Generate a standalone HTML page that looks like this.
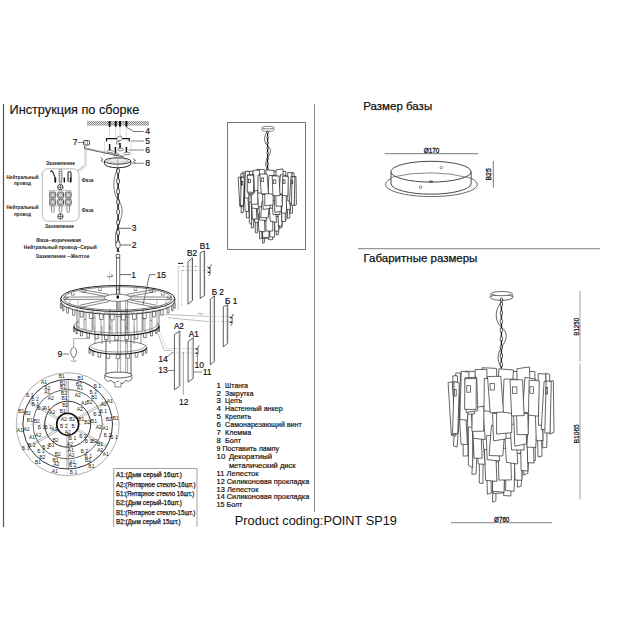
<!DOCTYPE html>
<html><head><meta charset="utf-8"><style>
html,body{margin:0;padding:0;background:#fff;width:630px;height:630px;overflow:hidden}
svg{position:absolute;left:0;top:0;font-family:"Liberation Sans",sans-serif}
</style></head><body>
<svg width="630" height="630" viewBox="0 0 630 630">
<rect width="630" height="630" fill="#fff"/>
<line x1="3.5" y1="104" x2="3.5" y2="527" stroke="#555" stroke-width="1.2" />
<line x1="314.5" y1="104" x2="314.5" y2="512" stroke="#888" stroke-width="1" />
<line x1="358" y1="248.7" x2="600" y2="248.7" stroke="#999" stroke-width="1.3" />
<text x="9.6" y="113.6" font-size="12.7" text-anchor="start" font-weight="normal" fill="#111" stroke="#111" stroke-width="0.15" >Инструкция по сборке</text>
<text x="363.3" y="110" font-size="11.5" text-anchor="start" font-weight="normal" fill="#111" stroke="#111" stroke-width="0.25" >Размер базы</text>
<text x="363.5" y="261.8" font-size="11.5" text-anchor="start" font-weight="normal" fill="#111" stroke="#111" stroke-width="0.25" >Габаритные размеры</text>
<text x="234.8" y="525" font-size="12.75" text-anchor="start" font-weight="normal" fill="#111" >Product coding:POINT SP19</text>
<rect x="227.5" y="122.5" width="78" height="127" fill="none" stroke="#777" stroke-width="1"/>
<path d="M113.7,527 V468.5 H197 V527" stroke="#999" stroke-width="0.9" fill="none" />
<text x="116" y="477.40000000000003" font-size="7.6" text-anchor="start" font-weight="normal" fill="#111" stroke="#111" stroke-width="0.25" textLength="66" lengthAdjust="spacingAndGlyphs">A1:(Дым серый 16шт.)</text>
<text x="116" y="487.0" font-size="7.6" text-anchor="start" font-weight="normal" fill="#111" stroke="#111" stroke-width="0.25" textLength="79.5" lengthAdjust="spacingAndGlyphs">A2:(Янтарное стекло-16шт.)</text>
<text x="116" y="495.8" font-size="7.6" text-anchor="start" font-weight="normal" fill="#111" stroke="#111" stroke-width="0.25" textLength="78.3" lengthAdjust="spacingAndGlyphs">Б1:(Янтарное стекло 16шт.)</text>
<text x="116" y="505.0" font-size="7.6" text-anchor="start" font-weight="normal" fill="#111" stroke="#111" stroke-width="0.25" textLength="66" lengthAdjust="spacingAndGlyphs">Б2:(Дым серый-16шт.)</text>
<text x="116" y="514.5" font-size="7.6" text-anchor="start" font-weight="normal" fill="#111" stroke="#111" stroke-width="0.25" textLength="79.2" lengthAdjust="spacingAndGlyphs">B1:(Янтарное стекло-15шт.)</text>
<text x="116" y="524.1" font-size="7.6" text-anchor="start" font-weight="normal" fill="#111" stroke="#111" stroke-width="0.25" textLength="64.7" lengthAdjust="spacingAndGlyphs">B2:(Дым серый 15шт.)</text>
<text x="216.6" y="387.7" font-size="7.9" text-anchor="start" font-weight="normal" fill="#111" stroke="#111" stroke-width="0.2" >1</text>
<text x="225.1" y="387.7" font-size="7.9" text-anchor="start" font-weight="normal" fill="#111" stroke="#111" stroke-width="0.2" textLength="23.0" lengthAdjust="spacingAndGlyphs">Штанга</text>
<text x="216.6" y="395.5" font-size="7.9" text-anchor="start" font-weight="normal" fill="#111" stroke="#111" stroke-width="0.2" >2</text>
<text x="225.1" y="395.5" font-size="7.9" text-anchor="start" font-weight="normal" fill="#111" stroke="#111" stroke-width="0.2" textLength="28.4" lengthAdjust="spacingAndGlyphs">Закрутка</text>
<text x="216.6" y="403.3" font-size="7.9" text-anchor="start" font-weight="normal" fill="#111" stroke="#111" stroke-width="0.2" >3</text>
<text x="225.1" y="403.3" font-size="7.9" text-anchor="start" font-weight="normal" fill="#111" stroke="#111" stroke-width="0.2" textLength="17.0" lengthAdjust="spacingAndGlyphs">Цепъ</text>
<text x="216.6" y="411.2" font-size="7.9" text-anchor="start" font-weight="normal" fill="#111" stroke="#111" stroke-width="0.2" >4</text>
<text x="225.1" y="411.2" font-size="7.9" text-anchor="start" font-weight="normal" fill="#111" stroke="#111" stroke-width="0.2" textLength="57.5" lengthAdjust="spacingAndGlyphs">Настенный анкер</text>
<text x="216.6" y="419" font-size="7.9" text-anchor="start" font-weight="normal" fill="#111" stroke="#111" stroke-width="0.2" >5</text>
<text x="225.1" y="419" font-size="7.9" text-anchor="start" font-weight="normal" fill="#111" stroke="#111" stroke-width="0.2" textLength="25.9" lengthAdjust="spacingAndGlyphs">Крепить</text>
<text x="216.6" y="427" font-size="7.9" text-anchor="start" font-weight="normal" fill="#111" stroke="#111" stroke-width="0.2" >6</text>
<text x="225.1" y="427" font-size="7.9" text-anchor="start" font-weight="normal" fill="#111" stroke="#111" stroke-width="0.2" textLength="76.6" lengthAdjust="spacingAndGlyphs">Самонарезающий винт</text>
<text x="216.6" y="435" font-size="7.9" text-anchor="start" font-weight="normal" fill="#111" stroke="#111" stroke-width="0.2" >7</text>
<text x="225.1" y="435" font-size="7.9" text-anchor="start" font-weight="normal" fill="#111" stroke="#111" stroke-width="0.2" textLength="26.0" lengthAdjust="spacingAndGlyphs">Клемма</text>
<text x="216.6" y="442.7" font-size="7.9" text-anchor="start" font-weight="normal" fill="#111" stroke="#111" stroke-width="0.2" >8</text>
<text x="225.1" y="442.7" font-size="7.9" text-anchor="start" font-weight="normal" fill="#111" stroke="#111" stroke-width="0.2" textLength="15.9" lengthAdjust="spacingAndGlyphs">Болт</text>
<text x="216.6" y="450.5" font-size="7.9" text-anchor="start" font-weight="normal" fill="#111" stroke="#111" stroke-width="0.2" textLength="62.4" lengthAdjust="spacingAndGlyphs">9 Поставить лампу</text>
<text x="216.6" y="459.2" font-size="7.9" text-anchor="start" font-weight="normal" fill="#111" stroke="#111" stroke-width="0.2" >10</text>
<text x="228.9" y="459.2" font-size="7.9" text-anchor="start" font-weight="normal" fill="#111" stroke="#111" stroke-width="0.2" textLength="43.1" lengthAdjust="spacingAndGlyphs">Декоратиый</text>
<text x="228.9" y="468.3" font-size="7.9" text-anchor="start" font-weight="normal" fill="#111" stroke="#111" stroke-width="0.2" textLength="66.7" lengthAdjust="spacingAndGlyphs">металический диск</text>
<text x="216.6" y="476.3" font-size="7.9" text-anchor="start" font-weight="normal" fill="#111" stroke="#111" stroke-width="0.2" textLength="41.9" lengthAdjust="spacingAndGlyphs">11 Лепесток</text>
<text x="216.6" y="484" font-size="7.9" text-anchor="start" font-weight="normal" fill="#111" stroke="#111" stroke-width="0.2" textLength="92.6" lengthAdjust="spacingAndGlyphs">12 Силиконовая прокладка</text>
<text x="216.6" y="491.6" font-size="7.9" text-anchor="start" font-weight="normal" fill="#111" stroke="#111" stroke-width="0.2" textLength="41.9" lengthAdjust="spacingAndGlyphs">13 Лепесток</text>
<text x="216.6" y="499" font-size="7.9" text-anchor="start" font-weight="normal" fill="#111" stroke="#111" stroke-width="0.2" textLength="92.6" lengthAdjust="spacingAndGlyphs">14 Силиконовая прокладка</text>
<text x="216.6" y="507" font-size="7.9" text-anchor="start" font-weight="normal" fill="#111" stroke="#111" stroke-width="0.2" textLength="25.8" lengthAdjust="spacingAndGlyphs">15 Болт</text>
<text x="431.5" y="152.8" font-size="7.2" text-anchor="middle" font-weight="normal" fill="#111" stroke="#111" stroke-width="0.3" textLength="15.5" lengthAdjust="spacingAndGlyphs">Ø170</text>
<line x1="384.8" y1="153.7" x2="478.1" y2="153.7" stroke="#555" stroke-width="0.8" />
<line x1="493.3" y1="161" x2="493.3" y2="187.6" stroke="#555" stroke-width="0.8" />
<text x="0" y="0" font-size="7.2" text-anchor="middle" font-weight="normal" fill="#111" stroke="#111" stroke-width="0.3" textLength="12.2" lengthAdjust="spacingAndGlyphs" transform="translate(491.2,174.4) rotate(-90)">B25</text>
<line x1="580" y1="291" x2="580" y2="361.5" stroke="#888" stroke-width="0.8" />
<line x1="580" y1="363.5" x2="580" y2="499.5" stroke="#888" stroke-width="0.8" />
<text x="0" y="0" font-size="7.0" text-anchor="middle" font-weight="normal" fill="#111" stroke="#111" stroke-width="0.25" textLength="17.8" lengthAdjust="spacingAndGlyphs" transform="translate(578.8,326.8) rotate(-90)">B1250</text>
<text x="0" y="0" font-size="7.0" text-anchor="middle" font-weight="normal" fill="#111" stroke="#111" stroke-width="0.25" textLength="18.9" lengthAdjust="spacingAndGlyphs" transform="translate(578.8,433.8) rotate(-90)">B1065</text>
<line x1="451" y1="522.7" x2="552.2" y2="522.7" stroke="#666" stroke-width="0.8" />
<text x="501.7" y="521.8" font-size="7.0" text-anchor="middle" font-weight="normal" fill="#111" stroke="#111" stroke-width="0.3" textLength="15.3" lengthAdjust="spacingAndGlyphs">Ø760</text>
<ellipse cx="501.6" cy="297.4" rx="11.4" ry="2.9" fill="#fff" stroke="#444" stroke-width="0.8"/>
<ellipse cx="501.6" cy="293.6" rx="10.5" ry="2.1" fill="#fff" stroke="#444" stroke-width="0.8"/>
<line x1="491.1" y1="293.6" x2="490.3" y2="297.2" stroke="#444" stroke-width="0.7" />
<line x1="512.1" y1="293.6" x2="513" y2="297.2" stroke="#444" stroke-width="0.7" />
<ellipse cx="501.4" cy="300" rx="1.3" ry="2" fill="none" stroke="#222" stroke-width="0.8"/>
<rect x="500.27" y="302.38" width="2.25" height="4.07" rx="0.90" fill="#fff" stroke="#222" stroke-width="0.75"/>
<rect x="500.70" y="306.22" width="1.40" height="4.98" fill="#222"/>
<rect x="500.27" y="310.97" width="2.25" height="4.07" rx="0.90" fill="#fff" stroke="#222" stroke-width="0.75"/>
<rect x="500.70" y="314.82" width="1.40" height="4.98" fill="#222"/>
<rect x="500.27" y="319.57" width="2.25" height="4.07" rx="0.90" fill="#fff" stroke="#222" stroke-width="0.75"/>
<rect x="500.70" y="323.42" width="1.40" height="4.98" fill="#222"/>
<rect x="500.27" y="328.17" width="2.25" height="4.07" rx="0.90" fill="#fff" stroke="#222" stroke-width="0.75"/>
<rect x="500.70" y="332.02" width="1.40" height="4.98" fill="#222"/>
<rect x="500.27" y="336.77" width="2.25" height="4.07" rx="0.90" fill="#fff" stroke="#222" stroke-width="0.75"/>
<rect x="500.70" y="340.62" width="1.40" height="4.98" fill="#222"/>
<rect x="500.27" y="345.37" width="2.25" height="4.07" rx="0.90" fill="#fff" stroke="#222" stroke-width="0.75"/>
<rect x="500.70" y="349.22" width="1.40" height="4.98" fill="#222"/>
<rect x="500.27" y="353.97" width="2.25" height="4.07" rx="0.90" fill="#fff" stroke="#222" stroke-width="0.75"/>
<rect x="500.70" y="357.82" width="1.40" height="4.98" fill="#222"/>
<rect x="500.27" y="362.57" width="2.25" height="4.07" rx="0.90" fill="#fff" stroke="#222" stroke-width="0.75"/>
<rect x="500.70" y="366.42" width="1.40" height="2.18" fill="#222"/>
<path d="M501.4,302 C494.2,309.92 494.79999999999995,321.8 501.4,327.08 S507.4,338.3 502.59999999999997,345.56 S496.0,358.1 501.4,368" fill="none" stroke="#222" stroke-width="0.7"/>
<path d="M492.7,474.1 L496.1,472.5 L495.9,500.8 L492.6,502.2 Z" fill="#fff" stroke="#333" stroke-width="0.75" stroke-linejoin="round"/>
<path d="M504.7,472.7 L511.8,473.3 L510.8,496.0 L503.6,495.5 Z" fill="#fff" stroke="#333" stroke-width="0.75" stroke-linejoin="round"/>
<path d="M493.0,468.7 L502.4,468.5 L502.4,493.1 L493.0,493.4 Z" fill="#fff" stroke="#333" stroke-width="0.75" stroke-linejoin="round"/>
<path d="M486.7,463.5 L490.6,462.1 L491.3,493.1 L487.4,494.2 Z" fill="#fff" stroke="#333" stroke-width="0.75" stroke-linejoin="round"/>
<path d="M506.3,461.1 L514.9,461.3 L514.1,491.3 L505.6,490.4 Z" fill="#fff" stroke="#333" stroke-width="0.75" stroke-linejoin="round"/>
<path d="M493.3,461.6 L504.9,462.3 L504.0,492.3 L492.4,491.1 Z" fill="#fff" stroke="#333" stroke-width="0.75" stroke-linejoin="round"/>
<path d="M519.9,452.8 L523.7,452.8 L521.1,486.4 L517.2,487.1 Z" fill="#fff" stroke="#333" stroke-width="0.75" stroke-linejoin="round"/>
<path d="M479.4,452.0 L483.1,452.4 L482.9,483.5 L479.3,483.0 Z" fill="#fff" stroke="#333" stroke-width="0.75" stroke-linejoin="round"/>
<path d="M514.3,453.2 L521.3,453.6 L522.0,480.3 L515.0,480.0 Z" fill="#fff" stroke="#333" stroke-width="0.75" stroke-linejoin="round"/>
<path d="M484.4,449.4 L495.7,449.9 L496.9,481.4 L485.6,480.3 Z" fill="#fff" stroke="#333" stroke-width="0.75" stroke-linejoin="round"/>
<path d="M498.1,448.2 L510.6,448.3 L511.4,479.9 L498.9,480.1 Z" fill="#fff" stroke="#333" stroke-width="0.75" stroke-linejoin="round"/>
<path d="M525.8,441.1 L529.9,440.2 L527.8,473.3 L523.7,475.1 Z" fill="#fff" stroke="#333" stroke-width="0.75" stroke-linejoin="round"/>
<path d="M473.6,440.4 L477.7,438.7 L476.0,473.9 L471.9,474.3 Z" fill="#fff" stroke="#333" stroke-width="0.75" stroke-linejoin="round"/>
<path d="M520.6,440.4 L527.4,439.8 L527.9,471.0 L521.1,470.4 Z" fill="#fff" stroke="#333" stroke-width="0.75" stroke-linejoin="round"/>
<path d="M476.0,436.5 L482.7,435.9 L485.0,464.4 L478.2,463.9 Z" fill="#fff" stroke="#333" stroke-width="0.75" stroke-linejoin="round"/>
<path d="M505.0,438.3 L516.3,438.4 L517.8,464.0 L506.4,462.3 Z" fill="#fff" stroke="#333" stroke-width="0.75" stroke-linejoin="round"/>
<path d="M486.3,435.7 L498.5,435.3 L499.5,460.9 L487.2,459.7 Z" fill="#fff" stroke="#333" stroke-width="0.75" stroke-linejoin="round"/>
<path d="M531.0,428.5 L535.2,428.5 L535.3,460.6 L531.1,461.2 Z" fill="#fff" stroke="#333" stroke-width="0.75" stroke-linejoin="round"/>
<path d="M468.3,427.2 L472.6,427.0 L472.7,467.6 L468.4,465.3 Z" fill="#fff" stroke="#333" stroke-width="0.75" stroke-linejoin="round"/>
<path d="M526.7,426.7 L532.9,426.2 L534.0,463.0 L527.7,462.6 Z" fill="#fff" stroke="#333" stroke-width="0.75" stroke-linejoin="round"/>
<path d="M472.5,424.4 L480.6,424.7 L482.2,458.2 L474.1,458.3 Z" fill="#fff" stroke="#333" stroke-width="0.75" stroke-linejoin="round"/>
<path d="M510.0,424.2 L522.7,424.2 L524.2,450.0 L511.6,449.9 Z" fill="#fff" stroke="#333" stroke-width="0.75" stroke-linejoin="round"/>
<path d="M491.5,425.3 L505.2,425.0 L502.8,456.0 L489.1,455.5 Z" fill="#fff" stroke="#333" stroke-width="0.75" stroke-linejoin="round"/>
<path d="M537.0,418.3 L541.0,418.2 L542.0,456.1 L538.1,457.0 Z" fill="#fff" stroke="#333" stroke-width="0.75" stroke-linejoin="round"/>
<path d="M462.8,414.4 L467.5,414.3 L468.0,455.8 L463.2,456.1 Z" fill="#fff" stroke="#333" stroke-width="0.75" stroke-linejoin="round"/>
<path d="M528.9,413.7 L537.8,413.7 L535.7,447.5 L526.8,447.1 Z" fill="#fff" stroke="#333" stroke-width="0.75" stroke-linejoin="round"/>
<path d="M471.2,412.0 L482.9,409.8 L485.2,439.5 L473.3,438.3 Z" fill="#fff" stroke="#333" stroke-width="0.75" stroke-linejoin="round"/>
<path d="M513.6,413.5 L525.5,413.2 L526.6,443.8 L514.8,446.2 Z" fill="#fff" stroke="#333" stroke-width="0.75" stroke-linejoin="round"/>
<path d="M492.5,413.5 L505.1,413.0 L506.2,438.8 L493.6,440.9 Z" fill="#fff" stroke="#333" stroke-width="0.75" stroke-linejoin="round"/>
<path d="M543.2,403.3 L547.3,404.3 L546.8,447.4 L542.7,447.9 Z" fill="#fff" stroke="#333" stroke-width="0.75" stroke-linejoin="round"/>
<path d="M456.6,402.0 L460.4,401.5 L457.1,447.1 L453.4,446.0 Z" fill="#fff" stroke="#333" stroke-width="0.75" stroke-linejoin="round"/>
<path d="M458.7,400.2 L465.1,401.2 L467.4,444.6 L461.0,444.2 Z" fill="#fff" stroke="#333" stroke-width="0.75" stroke-linejoin="round"/>
<path d="M534.9,401.1 L541.6,401.5 L543.0,440.6 L536.3,440.7 Z" fill="#fff" stroke="#333" stroke-width="0.75" stroke-linejoin="round"/>
<path d="M472.4,397.8 L484.0,399.9 L483.7,431.1 L471.9,431.4 Z" fill="#fff" stroke="#333" stroke-width="0.75" stroke-linejoin="round"/>
<path d="M516.3,401.3 L527.5,401.7 L528.3,434.6 L517.1,434.6 Z" fill="#fff" stroke="#333" stroke-width="0.75" stroke-linejoin="round"/>
<path d="M496.7,400.1 L511.8,400.9 L511.7,432.7 L496.6,434.1 Z" fill="#fff" stroke="#333" stroke-width="0.75" stroke-linejoin="round"/>
<path d="M505.8,371.0 L518.9,371.6 L521.3,409.1 L508.1,408.6 Z" fill="#fff" stroke="#333" stroke-width="0.75" stroke-linejoin="round"/>
<path d="M482.2,367.7 L496.5,368.4 L497.6,405.4 L483.4,406.6 Z" fill="#fff" stroke="#333" stroke-width="0.75" stroke-linejoin="round"/>
<path d="M522.8,371.6 L534.9,371.5 L535.0,412.5 L523.0,413.9 Z" fill="#fff" stroke="#333" stroke-width="0.75" stroke-linejoin="round"/>
<path d="M465.1,371.2 L475.5,371.5 L474.5,413.9 L464.1,414.4 Z" fill="#fff" stroke="#333" stroke-width="0.75" stroke-linejoin="round"/>
<path d="M541.4,375.7 L546.5,374.7 L549.7,427.1 L544.6,427.5 Z" fill="#fff" stroke="#333" stroke-width="0.75" stroke-linejoin="round"/>
<path d="M455.8,373.1 L460.5,372.9 L458.4,431.7 L453.8,429.5 Z" fill="#fff" stroke="#333" stroke-width="0.75" stroke-linejoin="round"/>
<path d="M545.7,373.1 L549.7,374.4 L550.4,429.1 L546.4,428.0 Z" fill="#fff" stroke="#333" stroke-width="0.75" stroke-linejoin="round"/>
<path d="M452.9,375.8 L457.5,375.8 L457.4,433.6 L452.8,434.3 Z" fill="#fff" stroke="#333" stroke-width="0.75" stroke-linejoin="round"/>
<path d="M538.2,373.5 L545.7,374.1 L546.0,425.1 L538.5,425.2 Z" fill="#fff" stroke="#333" stroke-width="0.75" stroke-linejoin="round"/>
<path d="M461.3,371.2 L469.0,372.1 L467.5,420.3 L459.8,419.5 Z" fill="#fff" stroke="#333" stroke-width="0.75" stroke-linejoin="round"/>
<path d="M516.9,368.7 L529.5,367.0 L530.4,405.9 L517.8,406.5 Z" fill="#fff" stroke="#333" stroke-width="0.75" stroke-linejoin="round"/>
<path d="M475.1,369.5 L486.9,369.4 L487.4,405.8 L475.6,407.3 Z" fill="#fff" stroke="#333" stroke-width="0.75" stroke-linejoin="round"/>
<path d="M498.9,368.8 L513.4,370.0 L511.4,409.2 L496.7,409.5 Z" fill="#fff" stroke="#333" stroke-width="0.75" stroke-linejoin="round"/>
<path d="M504.0,379.0 L516.9,379.3 L515.5,413.9 L502.6,412.1 Z" fill="#fff" stroke="#333" stroke-width="0.75" stroke-linejoin="round"/>
<path d="M484.3,378.4 L497.6,378.8 L497.3,412.1 L484.0,410.8 Z" fill="#fff" stroke="#333" stroke-width="0.75" stroke-linejoin="round"/>
<path d="M524.9,377.4 L535.8,379.2 L533.5,413.2 L522.6,412.2 Z" fill="#fff" stroke="#333" stroke-width="0.75" stroke-linejoin="round"/>
<path d="M465.0,377.7 L476.7,377.3 L477.8,410.7 L466.2,412.5 Z" fill="#fff" stroke="#333" stroke-width="0.75" stroke-linejoin="round"/>
<path d="M544.1,381.3 L549.8,382.2 L547.1,428.6 L541.2,429.7 Z" fill="#fff" stroke="#333" stroke-width="0.75" stroke-linejoin="round"/>
<path d="M452.8,381.7 L457.0,382.4 L455.9,435.9 L451.6,435.7 Z" fill="#fff" stroke="#333" stroke-width="0.75" stroke-linejoin="round"/>
<path d="M549.2,381.4 L553.3,380.7 L554.0,432.2 L549.9,434.2 Z" fill="#fff" stroke="#333" stroke-width="0.75" stroke-linejoin="round"/>
<path d="M448.1,382.5 L452.3,381.9 L455.5,434.2 L451.3,434.7 Z" fill="#fff" stroke="#333" stroke-width="0.75" stroke-linejoin="round"/>
<path d="M546.2,380.8 L551.3,381.6 L550.0,433.0 L544.8,433.0 Z" fill="#fff" stroke="#333" stroke-width="0.75" stroke-linejoin="round"/>
<rect x="545.9" y="387.6" width="1.7" height="6.5" fill="none" stroke="#333" stroke-width="0.675"/>
<path d="M454.1,381.6 L459.3,383.0 L457.8,433.4 L452.5,433.8 Z" fill="#fff" stroke="#333" stroke-width="0.75" stroke-linejoin="round"/>
<rect x="454.3" y="389.5" width="1.9" height="6.5" fill="none" stroke="#333" stroke-width="0.675"/>
<path d="M529.2,380.1 L539.3,380.8 L538.5,416.2 L528.4,415.1 Z" fill="#fff" stroke="#333" stroke-width="0.75" stroke-linejoin="round"/>
<rect x="529.9" y="386.8" width="3.4" height="6.5" fill="none" stroke="#333" stroke-width="0.675"/>
<path d="M464.9,378.7 L476.3,378.5 L476.1,409.5 L464.6,409.3 Z" fill="#fff" stroke="#333" stroke-width="0.75" stroke-linejoin="round"/>
<rect x="466.8" y="385.7" width="3.6" height="6.5" fill="none" stroke="#333" stroke-width="0.675"/>
<path d="M510.0,379.7 L522.6,379.8 L524.1,415.6 L511.6,415.9 Z" fill="#fff" stroke="#333" stroke-width="0.75" stroke-linejoin="round"/>
<rect x="512.6" y="386.9" width="4.3" height="6.5" fill="none" stroke="#333" stroke-width="0.675"/>
<path d="M487.5,376.5 L500.8,376.3 L503.4,411.9 L490.2,412.9 Z" fill="#fff" stroke="#333" stroke-width="0.75" stroke-linejoin="round"/>
<rect x="490.1" y="383.5" width="4.5" height="6.5" fill="none" stroke="#333" stroke-width="0.675"/>
<ellipse cx="268" cy="129.6" rx="6.5" ry="1.7" fill="#fff" stroke="#555" stroke-width="0.7"/>
<ellipse cx="268" cy="127.6" rx="6" ry="1.3" fill="#fff" stroke="#555" stroke-width="0.7"/>
<rect x="266.85" y="131.35" width="1.50" height="2.21" rx="0.66" fill="#fff" stroke="#111" stroke-width="0.7"/>
<rect x="267.00" y="133.31" width="1.20" height="3.49" fill="#111"/>
<rect x="266.85" y="136.55" width="1.50" height="2.21" rx="0.66" fill="#fff" stroke="#111" stroke-width="0.7"/>
<rect x="267.00" y="138.51" width="1.20" height="3.49" fill="#111"/>
<rect x="266.85" y="141.75" width="1.50" height="2.21" rx="0.66" fill="#fff" stroke="#111" stroke-width="0.7"/>
<rect x="267.00" y="143.71" width="1.20" height="3.49" fill="#111"/>
<rect x="266.85" y="146.95" width="1.50" height="2.21" rx="0.66" fill="#fff" stroke="#111" stroke-width="0.7"/>
<rect x="267.00" y="148.91" width="1.20" height="3.49" fill="#111"/>
<rect x="266.85" y="152.15" width="1.50" height="2.21" rx="0.66" fill="#fff" stroke="#111" stroke-width="0.7"/>
<rect x="267.00" y="154.11" width="1.20" height="3.49" fill="#111"/>
<rect x="266.85" y="157.35" width="1.50" height="2.21" rx="0.66" fill="#fff" stroke="#111" stroke-width="0.7"/>
<rect x="267.00" y="159.31" width="1.20" height="3.49" fill="#111"/>
<rect x="266.85" y="162.55" width="1.50" height="2.21" rx="0.66" fill="#fff" stroke="#111" stroke-width="0.7"/>
<rect x="267.00" y="164.51" width="1.20" height="3.49" fill="#111"/>
<rect x="266.85" y="167.75" width="1.50" height="1.90" rx="0.66" fill="#fff" stroke="#111" stroke-width="0.7"/>
<path d="M267.6,131 C263.40000000000003,135.68 263.75,142.7 267.6,145.82 S271.1,152.45 268.3,156.74 S264.45000000000005,164.15 267.6,170" fill="none" stroke="#111" stroke-width="0.6"/>
<path d="M262.7,227.8 L264.5,226.9 L264.4,242.5 L262.6,243.3 Z" fill="#fff" stroke="#1a1a1a" stroke-width="0.7" stroke-linejoin="round"/>
<path d="M269.2,227.0 L273.2,227.4 L272.6,239.8 L268.6,239.6 Z" fill="#fff" stroke="#1a1a1a" stroke-width="0.7" stroke-linejoin="round"/>
<path d="M262.8,224.8 L268.0,224.7 L268.0,238.2 L262.8,238.4 Z" fill="#fff" stroke="#1a1a1a" stroke-width="0.7" stroke-linejoin="round"/>
<path d="M259.3,222.0 L261.5,221.2 L261.9,238.3 L259.7,238.9 Z" fill="#fff" stroke="#1a1a1a" stroke-width="0.7" stroke-linejoin="round"/>
<path d="M270.2,220.6 L274.9,220.8 L274.5,237.2 L269.7,236.8 Z" fill="#fff" stroke="#1a1a1a" stroke-width="0.7" stroke-linejoin="round"/>
<path d="M263.0,220.9 L269.4,221.3 L268.9,237.8 L262.5,237.2 Z" fill="#fff" stroke="#1a1a1a" stroke-width="0.7" stroke-linejoin="round"/>
<path d="M277.6,216.1 L279.7,216.1 L278.3,234.6 L276.1,234.9 Z" fill="#fff" stroke="#1a1a1a" stroke-width="0.7" stroke-linejoin="round"/>
<path d="M255.3,215.6 L257.4,215.9 L257.3,233.0 L255.3,232.7 Z" fill="#fff" stroke="#1a1a1a" stroke-width="0.7" stroke-linejoin="round"/>
<path d="M274.6,216.3 L278.4,216.5 L278.8,231.2 L274.9,231.1 Z" fill="#fff" stroke="#1a1a1a" stroke-width="0.7" stroke-linejoin="round"/>
<path d="M258.1,214.2 L264.3,214.5 L265.0,231.8 L258.8,231.2 Z" fill="#fff" stroke="#1a1a1a" stroke-width="0.7" stroke-linejoin="round"/>
<path d="M265.6,213.5 L272.5,213.6 L272.9,231.0 L266.1,231.1 Z" fill="#fff" stroke="#1a1a1a" stroke-width="0.7" stroke-linejoin="round"/>
<path d="M280.9,209.7 L283.1,209.1 L282.0,227.4 L279.7,228.4 Z" fill="#fff" stroke="#1a1a1a" stroke-width="0.7" stroke-linejoin="round"/>
<path d="M252.2,209.2 L254.4,208.3 L253.4,227.7 L251.2,227.9 Z" fill="#fff" stroke="#1a1a1a" stroke-width="0.7" stroke-linejoin="round"/>
<path d="M278.0,209.3 L281.8,208.9 L282.0,226.1 L278.3,225.8 Z" fill="#fff" stroke="#1a1a1a" stroke-width="0.7" stroke-linejoin="round"/>
<path d="M253.5,207.1 L257.2,206.8 L258.4,222.5 L254.7,222.2 Z" fill="#fff" stroke="#1a1a1a" stroke-width="0.7" stroke-linejoin="round"/>
<path d="M269.4,208.1 L275.6,208.2 L276.5,222.3 L270.2,221.3 Z" fill="#fff" stroke="#1a1a1a" stroke-width="0.7" stroke-linejoin="round"/>
<path d="M259.1,206.7 L265.9,206.5 L266.4,220.5 L259.6,219.9 Z" fill="#fff" stroke="#1a1a1a" stroke-width="0.7" stroke-linejoin="round"/>
<path d="M283.7,202.7 L286.0,202.7 L286.1,220.4 L283.8,220.7 Z" fill="#fff" stroke="#1a1a1a" stroke-width="0.7" stroke-linejoin="round"/>
<path d="M249.2,202.0 L251.6,201.9 L251.6,224.3 L249.3,223.0 Z" fill="#fff" stroke="#1a1a1a" stroke-width="0.7" stroke-linejoin="round"/>
<path d="M281.4,201.7 L284.8,201.4 L285.4,221.7 L281.9,221.5 Z" fill="#fff" stroke="#1a1a1a" stroke-width="0.7" stroke-linejoin="round"/>
<path d="M251.5,200.5 L256.0,200.6 L256.9,219.1 L252.4,219.1 Z" fill="#fff" stroke="#1a1a1a" stroke-width="0.7" stroke-linejoin="round"/>
<path d="M272.2,200.4 L279.1,200.4 L280.0,214.5 L273.0,214.5 Z" fill="#fff" stroke="#1a1a1a" stroke-width="0.7" stroke-linejoin="round"/>
<path d="M262.0,201.0 L269.6,200.8 L268.2,217.8 L260.7,217.6 Z" fill="#fff" stroke="#1a1a1a" stroke-width="0.7" stroke-linejoin="round"/>
<path d="M287.1,197.1 L289.2,197.1 L289.8,217.9 L287.6,218.4 Z" fill="#fff" stroke="#1a1a1a" stroke-width="0.7" stroke-linejoin="round"/>
<path d="M246.2,195.0 L248.8,194.9 L249.1,217.7 L246.4,217.9 Z" fill="#fff" stroke="#1a1a1a" stroke-width="0.7" stroke-linejoin="round"/>
<path d="M282.5,194.6 L287.5,194.6 L286.3,213.2 L281.4,213.0 Z" fill="#fff" stroke="#1a1a1a" stroke-width="0.7" stroke-linejoin="round"/>
<path d="M250.8,193.6 L257.3,192.4 L258.5,208.8 L252.0,208.1 Z" fill="#fff" stroke="#1a1a1a" stroke-width="0.7" stroke-linejoin="round"/>
<path d="M274.2,194.5 L280.7,194.3 L281.3,211.2 L274.8,212.4 Z" fill="#fff" stroke="#1a1a1a" stroke-width="0.7" stroke-linejoin="round"/>
<path d="M262.5,194.5 L269.5,194.2 L270.1,208.4 L263.1,209.5 Z" fill="#fff" stroke="#1a1a1a" stroke-width="0.7" stroke-linejoin="round"/>
<path d="M290.4,188.8 L292.7,189.4 L292.4,213.1 L290.2,213.4 Z" fill="#fff" stroke="#1a1a1a" stroke-width="0.7" stroke-linejoin="round"/>
<path d="M242.8,188.2 L244.9,187.9 L243.1,212.9 L241.0,212.4 Z" fill="#fff" stroke="#1a1a1a" stroke-width="0.7" stroke-linejoin="round"/>
<path d="M243.9,187.1 L247.5,187.7 L248.7,211.6 L245.2,211.4 Z" fill="#fff" stroke="#1a1a1a" stroke-width="0.7" stroke-linejoin="round"/>
<path d="M285.9,187.7 L289.6,187.9 L290.3,209.4 L286.6,209.4 Z" fill="#fff" stroke="#1a1a1a" stroke-width="0.7" stroke-linejoin="round"/>
<path d="M251.5,185.9 L257.9,187.0 L257.7,204.2 L251.2,204.3 Z" fill="#fff" stroke="#1a1a1a" stroke-width="0.7" stroke-linejoin="round"/>
<path d="M275.6,187.8 L281.8,188.0 L282.3,206.1 L276.1,206.1 Z" fill="#fff" stroke="#1a1a1a" stroke-width="0.7" stroke-linejoin="round"/>
<path d="M264.9,187.1 L273.2,187.5 L273.1,205.0 L264.8,205.8 Z" fill="#fff" stroke="#1a1a1a" stroke-width="0.7" stroke-linejoin="round"/>
<path d="M269.9,171.1 L277.1,171.4 L278.4,192.1 L271.2,191.8 Z" fill="#fff" stroke="#1a1a1a" stroke-width="0.7" stroke-linejoin="round"/>
<path d="M256.9,169.3 L264.7,169.7 L265.4,190.0 L257.5,190.7 Z" fill="#fff" stroke="#1a1a1a" stroke-width="0.7" stroke-linejoin="round"/>
<path d="M279.2,171.4 L285.8,171.4 L285.9,193.9 L279.3,194.7 Z" fill="#fff" stroke="#1a1a1a" stroke-width="0.7" stroke-linejoin="round"/>
<path d="M247.5,171.2 L253.2,171.4 L252.7,194.7 L246.9,195.0 Z" fill="#fff" stroke="#1a1a1a" stroke-width="0.7" stroke-linejoin="round"/>
<path d="M289.4,173.7 L292.2,173.2 L294.0,202.0 L291.2,202.2 Z" fill="#fff" stroke="#1a1a1a" stroke-width="0.7" stroke-linejoin="round"/>
<path d="M242.4,172.2 L245.0,172.1 L243.8,204.5 L241.3,203.3 Z" fill="#fff" stroke="#1a1a1a" stroke-width="0.7" stroke-linejoin="round"/>
<path d="M291.8,172.2 L294.0,172.9 L294.4,203.0 L292.2,202.4 Z" fill="#fff" stroke="#1a1a1a" stroke-width="0.7" stroke-linejoin="round"/>
<path d="M240.8,173.7 L243.3,173.8 L243.3,205.5 L240.7,205.9 Z" fill="#fff" stroke="#1a1a1a" stroke-width="0.7" stroke-linejoin="round"/>
<path d="M287.7,172.5 L291.8,172.8 L292.0,200.9 L287.8,200.9 Z" fill="#fff" stroke="#1a1a1a" stroke-width="0.7" stroke-linejoin="round"/>
<path d="M245.4,171.2 L249.6,171.7 L248.8,198.2 L244.6,197.8 Z" fill="#fff" stroke="#1a1a1a" stroke-width="0.7" stroke-linejoin="round"/>
<path d="M276.0,169.9 L282.9,168.9 L283.4,190.3 L276.4,190.6 Z" fill="#fff" stroke="#1a1a1a" stroke-width="0.7" stroke-linejoin="round"/>
<path d="M253.0,170.3 L259.5,170.2 L259.7,190.2 L253.2,191.0 Z" fill="#fff" stroke="#1a1a1a" stroke-width="0.7" stroke-linejoin="round"/>
<path d="M266.0,169.9 L274.1,170.5 L272.9,192.1 L264.9,192.2 Z" fill="#fff" stroke="#1a1a1a" stroke-width="0.7" stroke-linejoin="round"/>
<path d="M268.9,175.5 L276.0,175.7 L275.2,194.7 L268.1,193.7 Z" fill="#fff" stroke="#1a1a1a" stroke-width="0.7" stroke-linejoin="round"/>
<path d="M258.0,175.2 L265.4,175.4 L265.2,193.7 L257.9,193.0 Z" fill="#fff" stroke="#1a1a1a" stroke-width="0.7" stroke-linejoin="round"/>
<path d="M280.4,174.6 L286.4,175.6 L285.1,194.3 L279.1,193.8 Z" fill="#fff" stroke="#1a1a1a" stroke-width="0.7" stroke-linejoin="round"/>
<path d="M247.4,174.8 L253.8,174.5 L254.5,193.0 L248.1,193.9 Z" fill="#fff" stroke="#1a1a1a" stroke-width="0.7" stroke-linejoin="round"/>
<path d="M290.9,176.7 L294.1,177.3 L292.6,202.8 L289.4,203.4 Z" fill="#fff" stroke="#1a1a1a" stroke-width="0.7" stroke-linejoin="round"/>
<path d="M240.7,177.0 L243.0,177.3 L242.4,206.8 L240.1,206.7 Z" fill="#fff" stroke="#1a1a1a" stroke-width="0.7" stroke-linejoin="round"/>
<path d="M293.7,176.8 L296.0,176.5 L296.4,204.7 L294.1,205.9 Z" fill="#fff" stroke="#1a1a1a" stroke-width="0.7" stroke-linejoin="round"/>
<path d="M238.1,177.4 L240.5,177.1 L242.2,205.8 L239.9,206.1 Z" fill="#fff" stroke="#1a1a1a" stroke-width="0.7" stroke-linejoin="round"/>
<path d="M292.1,176.5 L294.9,176.9 L294.2,205.2 L291.3,205.2 Z" fill="#fff" stroke="#1a1a1a" stroke-width="0.7" stroke-linejoin="round"/>
<rect x="291.9" y="180.2" width="0.9" height="3.6" fill="none" stroke="#1a1a1a" stroke-width="0.63"/>
<path d="M241.4,176.9 L244.3,177.7 L243.4,205.4 L240.5,205.6 Z" fill="#fff" stroke="#1a1a1a" stroke-width="0.7" stroke-linejoin="round"/>
<rect x="241.6" y="181.3" width="1.1" height="3.6" fill="none" stroke="#1a1a1a" stroke-width="0.63"/>
<path d="M282.7,176.1 L288.3,176.5 L287.9,196.0 L282.3,195.4 Z" fill="#fff" stroke="#1a1a1a" stroke-width="0.7" stroke-linejoin="round"/>
<rect x="283.1" y="179.8" width="1.9" height="3.6" fill="none" stroke="#1a1a1a" stroke-width="0.63"/>
<path d="M247.3,175.3 L253.6,175.2 L253.5,192.3 L247.2,192.1 Z" fill="#fff" stroke="#1a1a1a" stroke-width="0.7" stroke-linejoin="round"/>
<rect x="248.4" y="179.2" width="2.0" height="3.6" fill="none" stroke="#1a1a1a" stroke-width="0.63"/>
<path d="M272.2,175.9 L279.1,176.0 L280.0,195.6 L273.0,195.8 Z" fill="#fff" stroke="#1a1a1a" stroke-width="0.7" stroke-linejoin="round"/>
<rect x="273.6" y="179.9" width="2.3" height="3.6" fill="none" stroke="#1a1a1a" stroke-width="0.63"/>
<path d="M259.8,174.1 L267.1,174.0 L268.5,193.6 L261.3,194.1 Z" fill="#fff" stroke="#1a1a1a" stroke-width="0.7" stroke-linejoin="round"/>
<rect x="261.2" y="177.9" width="2.5" height="3.6" fill="none" stroke="#1a1a1a" stroke-width="0.63"/>
<ellipse cx="431.4" cy="184.4" rx="46" ry="12.2" fill="#fff" stroke="#444" stroke-width="0.8"/>
<path d="M391,171.7 V184 A40.1,10.7 0 0 0 471.1,184 V171.7" fill="#fff" stroke="#333" stroke-width="0.9"/>
<ellipse cx="431" cy="171.7" rx="40.1" ry="10.4" fill="#fff" stroke="#333" stroke-width="0.9"/>
<path d="M391.5,177.2 Q431,168 470.6,178" fill="none" stroke="#555" stroke-width="0.7"/>
<circle cx="441.3" cy="167.6" r="1.3" fill="#fff" stroke="#444" stroke-width="0.6"/>
<circle cx="420.6" cy="187.2" r="1.3" fill="#fff" stroke="#444" stroke-width="0.6"/>
<ellipse cx="431" cy="181.6" rx="2.3" ry="1.1" fill="#555"/>
<defs><pattern id="hatch" width="2" height="2" patternUnits="userSpaceOnUse"><rect width="2" height="2" fill="#e2e2e2"/><rect width="1" height="1" fill="#8a8a8a"/><rect x="1" y="1" width="1" height="1" fill="#8a8a8a"/></pattern></defs>
<rect x="87" y="121" width="62" height="4.6" fill="url(#hatch)"/>
<path d="M108.6,121 V126 L109.6,127.5 L110.6,126 V121 Z" fill="#111"/>
<line x1="109.6" y1="127.5" x2="109.6" y2="137.5" stroke="#bbb" stroke-width="0.6" />
<path d="M114.7,121 V126 L115.7,127.5 L116.7,126 V121 Z" fill="#111"/>
<line x1="115.7" y1="127.5" x2="115.7" y2="137.5" stroke="#bbb" stroke-width="0.6" />
<path d="M119,121 V126 L120,127.5 L121,126 V121 Z" fill="#111"/>
<line x1="120" y1="127.5" x2="120" y2="137.5" stroke="#bbb" stroke-width="0.6" />
<path d="M125.4,121 V126 L126.4,127.5 L127.4,126 V121 Z" fill="#111"/>
<line x1="126.4" y1="127.5" x2="126.4" y2="137.5" stroke="#bbb" stroke-width="0.6" />
<path d="M126.6,127.1 L133.7,131.5 H143.7" stroke="#555" stroke-width="0.8" fill="none" />
<text x="145.2" y="134.3" font-size="8.6" text-anchor="start" font-weight="normal" fill="#111" stroke="#111" stroke-width="0.15" >4</text>
<path d="M106.5,141.5 V138.7 H129.3 V141.5" stroke="#111" stroke-width="1.2" fill="none" />
<path d="M116.5,139.5 L118,136.5 L121,136 L122.5,138.5 L121,140.5 L118,140.5 Z" fill="#fff" stroke="#333" stroke-width="0.6"/>
<line x1="118.5" y1="141" x2="118.5" y2="143.5" stroke="#555" stroke-width="0.6" />
<rect x="116.5" y="141.5" width="2.5" height="2.5" fill="#fff" stroke="#555" stroke-width="0.5"/>
<path d="M131,141 H143.7" stroke="#777" stroke-width="0.9" fill="none" />
<text x="145.2" y="143.8" font-size="8.6" text-anchor="start" font-weight="normal" fill="#111" stroke="#111" stroke-width="0.15" >5</text>
<line x1="104.5" y1="141" x2="104.5" y2="156" stroke="#bbb" stroke-width="0.5" />
<line x1="131" y1="141" x2="131" y2="156" stroke="#bbb" stroke-width="0.5" />
<line x1="109.6" y1="144" x2="109.6" y2="150.5" stroke="#111" stroke-width="1.5" />
<ellipse cx="110.1" cy="151.5" rx="3" ry="1.3" fill="#fff" stroke="#333" stroke-width="0.6"/>
<line x1="115.4" y1="147" x2="115.4" y2="153.5" stroke="#111" stroke-width="1.5" />
<ellipse cx="115.9" cy="154.5" rx="3" ry="1.3" fill="#fff" stroke="#333" stroke-width="0.6"/>
<line x1="120" y1="143" x2="120" y2="148.5" stroke="#111" stroke-width="1.5" />
<ellipse cx="120.5" cy="149.5" rx="3" ry="1.3" fill="#fff" stroke="#333" stroke-width="0.6"/>
<line x1="126.4" y1="147" x2="126.4" y2="152.5" stroke="#111" stroke-width="1.5" />
<ellipse cx="126.9" cy="153.5" rx="3" ry="1.3" fill="#fff" stroke="#333" stroke-width="0.6"/>
<path d="M128.6,150 H143.7" stroke="#777" stroke-width="0.9" fill="none" />
<text x="145.2" y="152.5" font-size="8.6" text-anchor="start" font-weight="normal" fill="#111" stroke="#111" stroke-width="0.15" >6</text>
<path d="M104.5,161 V163.5 A13.2,4.3 0 0 0 130.9,163.5 V161" fill="#fff" stroke="#222" stroke-width="1"/>
<ellipse cx="117.7" cy="161" rx="13.2" ry="3.2" fill="#fff" stroke="#222" stroke-width="0.9"/>
<ellipse cx="117.7" cy="160.8" rx="10" ry="2.2" fill="none" stroke="#888" stroke-width="0.5"/>
<line x1="117.7" y1="158" x2="117.7" y2="167.5" stroke="#666" stroke-width="0.5" />
<line x1="105" y1="161" x2="130" y2="161" stroke="#999" stroke-width="0.5" />
<path d="M100.5,157.5 L103,159.5 L101,160.5 L103.5,162.5" stroke="#333" stroke-width="0.7" fill="none" />
<path d="M133,158.5 L135.5,160.5 L133.5,161.5 L136,163.5" stroke="#333" stroke-width="0.7" fill="none" />
<path d="M132,163.3 H143.7" stroke="#777" stroke-width="0.9" fill="none" />
<text x="145.2" y="165.6" font-size="8.6" text-anchor="start" font-weight="normal" fill="#111" stroke="#111" stroke-width="0.15" >8</text>
<text x="72.7" y="145.1" font-size="8.6" text-anchor="start" font-weight="normal" fill="#111" stroke="#111" stroke-width="0.15" >7</text>
<line x1="77.5" y1="142.5" x2="83" y2="142.5" stroke="#777" stroke-width="0.9" />
<rect x="83.5" y="140.5" width="6" height="4.5" rx="1" fill="#fff" stroke="#222" stroke-width="0.8"/>
<line x1="85" y1="141" x2="85" y2="144.5" stroke="#222" stroke-width="0.5" />
<line x1="87.5" y1="141" x2="87.5" y2="144.5" stroke="#222" stroke-width="0.5" />
<path d="M84.6,146 L84.6,148.7 L124,157" stroke="#333" stroke-width="0.8" fill="none" />
<path d="M86,146 L86,148 L124.5,156.2" stroke="#777" stroke-width="0.5" fill="none" />
<path d="M85,149 V165.7 L78,171 H47 Q42,171 42,176" stroke="#999" stroke-width="0.6" fill="none" />
<path d="M86.5,149 V166 L80,172" stroke="#bbb" stroke-width="0.5" fill="none" />
<rect x="116.75" y="168.40" width="2.70" height="4.97" rx="1.05" fill="#fff" stroke="#222" stroke-width="0.8"/>
<rect x="117.30" y="173.17" width="1.60" height="5.73" fill="#222"/>
<rect x="116.75" y="178.70" width="2.70" height="4.97" rx="1.05" fill="#fff" stroke="#222" stroke-width="0.8"/>
<rect x="117.30" y="183.47" width="1.60" height="5.73" fill="#222"/>
<rect x="116.75" y="189.00" width="2.70" height="4.97" rx="1.05" fill="#fff" stroke="#222" stroke-width="0.8"/>
<rect x="117.30" y="193.77" width="1.60" height="5.73" fill="#222"/>
<rect x="116.75" y="199.30" width="2.70" height="4.97" rx="1.05" fill="#fff" stroke="#222" stroke-width="0.8"/>
<rect x="117.30" y="204.07" width="1.60" height="5.73" fill="#222"/>
<rect x="116.75" y="209.60" width="2.70" height="4.97" rx="1.05" fill="#fff" stroke="#222" stroke-width="0.8"/>
<rect x="117.30" y="214.37" width="1.60" height="5.73" fill="#222"/>
<rect x="116.75" y="219.90" width="2.70" height="4.97" rx="1.05" fill="#fff" stroke="#222" stroke-width="0.8"/>
<rect x="117.30" y="224.67" width="1.60" height="5.73" fill="#222"/>
<rect x="116.75" y="230.20" width="2.70" height="4.97" rx="1.05" fill="#fff" stroke="#222" stroke-width="0.8"/>
<rect x="117.30" y="234.97" width="1.60" height="5.73" fill="#222"/>
<rect x="116.75" y="240.50" width="2.70" height="4.97" rx="1.05" fill="#fff" stroke="#222" stroke-width="0.8"/>
<rect x="117.30" y="245.27" width="1.60" height="5.73" fill="#222"/>
<rect x="116.75" y="250.80" width="2.70" height="0.80" rx="1.05" fill="#fff" stroke="#222" stroke-width="0.8"/>
<path d="M118.1,168 C112.1,178.08 112.6,193.2 118.1,199.92000000000002 S123.1,214.2 119.1,223.44 S113.6,239.39999999999998 118.1,252" fill="none" stroke="#222" stroke-width="0.6"/>
<path d="M119,228.3 H131" stroke="#555" stroke-width="0.9" fill="none" />
<text x="131.7" y="231.3" font-size="8.6" text-anchor="start" font-weight="normal" fill="#111" stroke="#111" stroke-width="0.15" >3</text>
<rect x="116" y="242" width="4" height="6" rx="1.5" fill="#fff" stroke="#333" stroke-width="0.7"/>
<path d="M120,245 H131" stroke="#555" stroke-width="0.9" fill="none" />
<text x="131.7" y="248" font-size="8.6" text-anchor="start" font-weight="normal" fill="#111" stroke="#111" stroke-width="0.15" >2</text>
<circle cx="118" cy="256" r="2" fill="#fff" stroke="#333" stroke-width="0.8"/>
<rect x="116.4" y="258" width="3.4" height="40" fill="#fff" stroke="#333" stroke-width="0.7"/>
<path d="M120,274.6 H131.5" stroke="#555" stroke-width="0.9" fill="none" />
<text x="131.2" y="277.6" font-size="8.6" text-anchor="start" font-weight="normal" fill="#111" stroke="#111" stroke-width="0.15" >1</text>
<path d="M107,276 A2.8,1.2 0 1 0 112.5,275.5" fill="none" stroke="#444" stroke-width="0.7"/>
<path d="M111.2,274 L112.6,275.5 L111,276.3" stroke="#444" stroke-width="0.6" fill="none" />
<line x1="109.7" y1="271" x2="109.7" y2="281" stroke="#999" stroke-width="0.5" />
<path d="M104.8,375 V379 Q108,383 111,380 Q114,385 118,381 Q122,387 126,380 Q129,383 131.8,379 V375" fill="#fff" stroke="#333" stroke-width="0.7"/>
<ellipse cx="118.3" cy="375" rx="13.5" ry="3" fill="#fff" stroke="#333" stroke-width="0.8"/>
<path d="M115,382 V387 H121 V382" fill="#fff" stroke="#444" stroke-width="0.6"/>
<line x1="106" y1="325" x2="106" y2="374" stroke="#333" stroke-width="0.8" />
<line x1="131" y1="325" x2="131" y2="374" stroke="#333" stroke-width="0.8" />
<line x1="118" y1="300" x2="118" y2="373" stroke="#666" stroke-width="0.6" />
<line x1="120.6" y1="300" x2="120.6" y2="373" stroke="#666" stroke-width="0.6" />
<line x1="125.7" y1="300" x2="125.7" y2="373" stroke="#666" stroke-width="0.6" />
<line x1="127.6" y1="300" x2="127.6" y2="373" stroke="#666" stroke-width="0.6" />
<rect x="117.8" y="300" width="3" height="72" fill="#eee" stroke="#777" stroke-width="0.4"/>
<path d="M88.9,348.7 V353.2 H90.2 V348.7" fill="#fff" stroke="#333" stroke-width="0.6"/>
<path d="M92.1,350.9 V355.4 H93.8 V350.9" fill="#fff" stroke="#333" stroke-width="0.6"/>
<path d="M98.0,352.6 V357.1 H100.7 V352.6" fill="#fff" stroke="#333" stroke-width="0.6"/>
<path d="M106.4,353.8 V358.3 H109.7 V353.8" fill="#fff" stroke="#333" stroke-width="0.6"/>
<path d="M116.2,354.2 V358.7 H119.7 V354.2" fill="#fff" stroke="#333" stroke-width="0.6"/>
<path d="M126.1,353.8 V358.3 H129.4 V353.8" fill="#fff" stroke="#333" stroke-width="0.6"/>
<path d="M135.1,352.6 V357.1 H137.8 V352.6" fill="#fff" stroke="#333" stroke-width="0.6"/>
<path d="M142.0,350.9 V355.4 H143.7 V350.9" fill="#fff" stroke="#333" stroke-width="0.6"/>
<path d="M145.6,348.7 V353.2 H146.9 V348.7" fill="#fff" stroke="#333" stroke-width="0.6"/>
<path d="M89.1,347.5 A28.8,6.7 0 0 1 146.7,347.5" fill="none" stroke="#555" stroke-width="0.8"/>
<path d="M89.1,347.5 A28.8,6.7 0 0 0 146.7,347.5" fill="none" stroke="#111" stroke-width="1.2"/>
<path d="M91.1,346.3 A26.8,5.7 0 0 0 144.7,346.3" fill="none" stroke="#555" stroke-width="0.6"/>
<line x1="95" y1="326" x2="95" y2="344" stroke="#555" stroke-width="0.6" />
<line x1="102" y1="326" x2="102" y2="344" stroke="#555" stroke-width="0.6" />
<line x1="110" y1="326" x2="110" y2="344" stroke="#555" stroke-width="0.6" />
<line x1="126" y1="326" x2="126" y2="344" stroke="#555" stroke-width="0.6" />
<line x1="134" y1="326" x2="134" y2="344" stroke="#555" stroke-width="0.6" />
<line x1="141" y1="326" x2="141" y2="344" stroke="#555" stroke-width="0.6" />
<path d="M73.8,326 A42.7,9.5 0 0 1 159.2,326" fill="none" stroke="#666" stroke-width="0.8"/>
<rect x="79" y="311" width="5" height="19" fill="#fff" stroke="#555" stroke-width="0.55"/>
<rect x="86" y="312" width="6" height="20" fill="#fff" stroke="#555" stroke-width="0.55"/>
<rect x="95" y="313" width="6" height="21" fill="#fff" stroke="#555" stroke-width="0.55"/>
<rect x="104" y="313" width="5" height="22" fill="#fff" stroke="#555" stroke-width="0.55"/>
<rect x="112" y="313" width="4" height="22" fill="#fff" stroke="#555" stroke-width="0.55"/>
<rect x="121" y="313" width="4" height="22" fill="#fff" stroke="#555" stroke-width="0.55"/>
<rect x="129" y="313" width="5" height="22" fill="#fff" stroke="#555" stroke-width="0.55"/>
<rect x="137" y="313" width="5" height="21" fill="#fff" stroke="#555" stroke-width="0.55"/>
<rect x="145" y="312" width="5" height="21" fill="#fff" stroke="#555" stroke-width="0.55"/>
<rect x="152" y="311" width="5" height="20" fill="#fff" stroke="#555" stroke-width="0.55"/>
<line x1="77" y1="309" x2="77" y2="330" stroke="#444" stroke-width="0.7" />
<line x1="93" y1="309" x2="93" y2="330" stroke="#444" stroke-width="0.7" />
<line x1="110" y1="309" x2="110" y2="330" stroke="#444" stroke-width="0.7" />
<line x1="127" y1="309" x2="127" y2="330" stroke="#444" stroke-width="0.7" />
<line x1="143" y1="309" x2="143" y2="330" stroke="#444" stroke-width="0.7" />
<line x1="159" y1="309" x2="159" y2="330" stroke="#444" stroke-width="0.7" />
<path d="M73.5,327.1 V331.6 H74.7 V327.1" fill="#fff" stroke="#222" stroke-width="0.6"/>
<path d="M76.0,329.4 V333.9 H77.2 V329.4" fill="#fff" stroke="#222" stroke-width="0.6"/>
<path d="M80.4,331.4 V335.9 H82.4 V331.4" fill="#fff" stroke="#222" stroke-width="0.6"/>
<path d="M86.9,333.1 V337.6 H89.5 V333.1" fill="#fff" stroke="#222" stroke-width="0.6"/>
<path d="M95.1,334.4 V338.9 H98.2 V334.4" fill="#fff" stroke="#222" stroke-width="0.6"/>
<path d="M104.6,335.2 V339.7 H108.0 V335.2" fill="#fff" stroke="#222" stroke-width="0.6"/>
<path d="M114.8,335.5 V340.0 H118.2 V335.5" fill="#fff" stroke="#222" stroke-width="0.6"/>
<path d="M125.0,335.2 V339.7 H128.4 V335.2" fill="#fff" stroke="#222" stroke-width="0.6"/>
<path d="M134.8,334.4 V338.9 H137.9 V334.4" fill="#fff" stroke="#222" stroke-width="0.6"/>
<path d="M143.5,333.1 V337.6 H146.1 V333.1" fill="#fff" stroke="#222" stroke-width="0.6"/>
<path d="M150.6,331.4 V335.9 H152.6 V331.4" fill="#fff" stroke="#222" stroke-width="0.6"/>
<path d="M155.8,329.4 V333.9 H157.0 V329.4" fill="#fff" stroke="#222" stroke-width="0.6"/>
<path d="M158.3,327.1 V331.6 H159.5 V327.1" fill="#fff" stroke="#222" stroke-width="0.6"/>
<path d="M73.8,326 A42.7,9.5 0 0 0 159.2,326" fill="none" stroke="#111" stroke-width="1.2"/>
<path d="M76,324.6 A40.5,8.3 0 0 0 157,324.6" fill="none" stroke="#555" stroke-width="0.6"/>
<path d="M60.4,302.8 V308.3 H61.7 V302.8" fill="#fff" stroke="#333" stroke-width="0.6"/>
<path d="M62.6,305.3 V310.8 H63.9 V305.3" fill="#fff" stroke="#333" stroke-width="0.6"/>
<path d="M66.6,307.6 V313.1 H68.4 V307.6" fill="#fff" stroke="#333" stroke-width="0.6"/>
<path d="M72.5,309.7 V315.2 H74.9 V309.7" fill="#fff" stroke="#333" stroke-width="0.6"/>
<path d="M80.2,311.5 V317.0 H83.1 V311.5" fill="#fff" stroke="#333" stroke-width="0.6"/>
<path d="M89.3,313.0 V318.5 H92.6 V313.0" fill="#fff" stroke="#333" stroke-width="0.6"/>
<path d="M99.4,313.9 V319.4 H103.1 V313.9" fill="#fff" stroke="#333" stroke-width="0.6"/>
<path d="M110.3,314.4 V319.9 H114.1 V314.4" fill="#fff" stroke="#333" stroke-width="0.6"/>
<path d="M121.5,314.4 V319.9 H125.3 V314.4" fill="#fff" stroke="#333" stroke-width="0.6"/>
<path d="M132.5,313.9 V319.4 H136.2 V313.9" fill="#fff" stroke="#333" stroke-width="0.6"/>
<path d="M143.0,313.0 V318.5 H146.3 V313.0" fill="#fff" stroke="#333" stroke-width="0.6"/>
<path d="M152.5,311.5 V317.0 H155.4 V311.5" fill="#fff" stroke="#333" stroke-width="0.6"/>
<path d="M160.7,309.7 V315.2 H163.1 V309.7" fill="#fff" stroke="#333" stroke-width="0.6"/>
<path d="M167.2,307.6 V313.1 H169.0 V307.6" fill="#fff" stroke="#333" stroke-width="0.6"/>
<path d="M171.7,305.3 V310.8 H173.0 V305.3" fill="#fff" stroke="#333" stroke-width="0.6"/>
<path d="M173.9,302.8 V308.3 H175.2 V302.8" fill="#fff" stroke="#333" stroke-width="0.6"/>
<path d="M60.8,298.5 V301.5 A57,13 0 0 0 174.8,301.5 V298.5" fill="none" stroke="#333" stroke-width="0.9"/>
<ellipse cx="117.8" cy="298.5" rx="57" ry="13" fill="none" stroke="#222" stroke-width="1"/>
<ellipse cx="117.8" cy="298.4" rx="54.3" ry="11.7" fill="none" stroke="#444" stroke-width="0.7"/>
<path d="M65.3,296.5 v2.2 h2.6 v-2.2" fill="none" stroke="#444" stroke-width="0.6"/>
<path d="M71.5,293.0 v2.2 h2.6 v-2.2" fill="none" stroke="#444" stroke-width="0.6"/>
<path d="M83.1,290.1 v2.2 h2.6 v-2.2" fill="none" stroke="#444" stroke-width="0.6"/>
<path d="M98.7,288.3 v2.2 h2.6 v-2.2" fill="none" stroke="#444" stroke-width="0.6"/>
<path d="M116.5,287.6 v2.2 h2.6 v-2.2" fill="none" stroke="#444" stroke-width="0.6"/>
<path d="M134.3,288.3 v2.2 h2.6 v-2.2" fill="none" stroke="#444" stroke-width="0.6"/>
<path d="M149.9,290.1 v2.2 h2.6 v-2.2" fill="none" stroke="#444" stroke-width="0.6"/>
<path d="M161.5,293.0 v2.2 h2.6 v-2.2" fill="none" stroke="#444" stroke-width="0.6"/>
<path d="M167.7,296.5 v2.2 h2.6 v-2.2" fill="none" stroke="#444" stroke-width="0.6"/>
<line x1="130.8" y1="296.8" x2="171.8" y2="297.2" stroke="#333" stroke-width="0.6" />
<line x1="130.8" y1="299.2" x2="171.8" y2="299.6" stroke="#333" stroke-width="0.6" />
<line x1="127.2" y1="299.2" x2="156.2" y2="305.3" stroke="#333" stroke-width="0.6" />
<line x1="126.7" y1="301.6" x2="155.7" y2="307.6" stroke="#333" stroke-width="0.6" />
<line x1="119.0" y1="301.4" x2="119.0" y2="309.8" stroke="#333" stroke-width="0.6" />
<line x1="116.6" y1="301.4" x2="116.6" y2="309.8" stroke="#333" stroke-width="0.6" />
<line x1="108.9" y1="301.6" x2="79.9" y2="307.6" stroke="#333" stroke-width="0.6" />
<line x1="108.4" y1="299.2" x2="79.4" y2="305.3" stroke="#333" stroke-width="0.6" />
<line x1="104.8" y1="299.2" x2="63.8" y2="299.6" stroke="#333" stroke-width="0.6" />
<line x1="104.8" y1="296.8" x2="63.8" y2="297.2" stroke="#333" stroke-width="0.6" />
<line x1="108.4" y1="296.8" x2="79.4" y2="291.5" stroke="#333" stroke-width="0.6" />
<line x1="108.9" y1="294.4" x2="79.9" y2="289.2" stroke="#333" stroke-width="0.6" />
<line x1="116.6" y1="294.6" x2="116.6" y2="287.0" stroke="#333" stroke-width="0.6" />
<line x1="119.0" y1="294.6" x2="119.0" y2="287.0" stroke="#333" stroke-width="0.6" />
<line x1="126.7" y1="294.4" x2="155.7" y2="289.2" stroke="#333" stroke-width="0.6" />
<line x1="127.2" y1="296.8" x2="156.2" y2="291.5" stroke="#333" stroke-width="0.6" />
<ellipse cx="117.6" cy="297.8" rx="13.4" ry="3.6" fill="#fff" stroke="#444" stroke-width="0.7"/>
<rect x="116.6" y="295.5" width="2.4" height="3" fill="#000"/>
<path d="M155.5,274.6 H149.5 L143,305" stroke="#555" stroke-width="0.8" fill="none" />
<text x="156.5" y="277.6" font-size="8.6" text-anchor="start" font-weight="normal" fill="#111" stroke="#111" stroke-width="0.15" >15</text>
<line x1="70" y1="300" x2="70" y2="309" stroke="#777" stroke-width="0.5" />
<line x1="78" y1="300" x2="78" y2="309" stroke="#777" stroke-width="0.5" />
<line x1="157" y1="300" x2="157" y2="309" stroke="#777" stroke-width="0.5" />
<line x1="166" y1="300" x2="166" y2="309" stroke="#777" stroke-width="0.5" />
<text x="57.5" y="357" font-size="8.6" text-anchor="start" font-weight="normal" fill="#111" stroke="#111" stroke-width="0.15" >9</text>
<line x1="63" y1="354" x2="69" y2="354" stroke="#555" stroke-width="0.8" />
<path d="M73.6,347 V338.6 H90" stroke="#888" stroke-width="0.7" fill="none" />
<path d="M73.6,347 C70,349 70,353 72,356 L73.6,358 L75.2,356 C77.2,353 77.2,349 73.6,347 Z" fill="#fff" stroke="#333" stroke-width="0.7"/>
<path d="M71.5,360 A2.5,1 0 1 0 76,360" fill="none" stroke="#555" stroke-width="0.5"/>
<line x1="73.6" y1="358" x2="73.6" y2="361" stroke="#555" stroke-width="0.5" />
<path d="M188,261.7 L192.5,257.9 L192.5,300.5 L188,304.2 Z" fill="#fff" stroke="#333" stroke-width="0.8" stroke-linejoin="round"/>
<line x1="191.3" y1="259.4" x2="191.3" y2="299.5" stroke="#aaa" stroke-width="0.5"/>
<path d="M200.2,252.8 L204.6,250.9 L204.6,295.3 L200.2,298.5 Z" fill="#fff" stroke="#333" stroke-width="0.8" stroke-linejoin="round"/>
<line x1="203.4" y1="252.4" x2="203.4" y2="294.3" stroke="#aaa" stroke-width="0.5"/>
<text x="187" y="256.3" font-size="8.2" text-anchor="start" font-weight="normal" fill="#111" stroke="#111" stroke-width="0.2" >B2</text>
<text x="199.8" y="248.7" font-size="8.2" text-anchor="start" font-weight="normal" fill="#111" stroke="#111" stroke-width="0.2" >B1</text>
<path d="M208.7,275.8 L210.1,273.8 V266.4 L211.5,264.4" stroke="#333" stroke-width="0.8" fill="none" />
<rect x="207.7" y="267.2" width="2.2" height="1.4" fill="#222"/>
<rect x="207.7" y="271.6" width="2.2" height="1.4" fill="#222"/>
<line x1="178.2" y1="266.4" x2="208" y2="266.4" stroke="#999" stroke-width="0.5" stroke-dasharray="2,1.5"/>
<line x1="181.4" y1="270.6" x2="208" y2="270.6" stroke="#999" stroke-width="0.5" stroke-dasharray="2,1.5"/>
<line x1="177.9" y1="263.4" x2="183.2" y2="263.4" stroke="#333" stroke-width="1.1" />
<line x1="178.2" y1="266" x2="178.2" y2="310" stroke="#aaa" stroke-width="0.6" />
<line x1="181.4" y1="270.6" x2="181.4" y2="306" stroke="#bbb" stroke-width="0.5" />
<circle cx="183.2" cy="266.4" r="0.7" fill="#999"/>
<circle cx="183.2" cy="270.6" r="0.7" fill="#999"/>
<circle cx="195.4" cy="266.4" r="0.7" fill="#999"/>
<circle cx="195.4" cy="270.6" r="0.7" fill="#999"/>
<path d="M210.3,299 L214.4,295.9 L214.4,361.3 L210.3,364.8 Z" fill="#fff" stroke="#333" stroke-width="0.8" stroke-linejoin="round"/>
<line x1="213.20000000000002" y1="297.4" x2="213.20000000000002" y2="360.3" stroke="#aaa" stroke-width="0.5"/>
<path d="M223.3,306.7 L227.7,304.8 L227.7,343.2 L223.3,346.7 Z" fill="#fff" stroke="#333" stroke-width="0.8" stroke-linejoin="round"/>
<line x1="226.5" y1="306.3" x2="226.5" y2="342.2" stroke="#aaa" stroke-width="0.5"/>
<text x="211.7" y="294.6" font-size="8.2" text-anchor="start" font-weight="normal" fill="#111" stroke="#111" stroke-width="0.2" >Б 2</text>
<text x="225" y="303.5" font-size="8.2" text-anchor="start" font-weight="normal" fill="#111" stroke="#111" stroke-width="0.2" >Б 1</text>
<path d="M230.7,325.8 L232.1,323.8 V316.0 L233.5,314.0" stroke="#333" stroke-width="0.8" fill="none" />
<rect x="229.7" y="316.8" width="2.2" height="1.4" fill="#222"/>
<rect x="229.7" y="321.6" width="2.2" height="1.4" fill="#222"/>
<line x1="163.8" y1="314.3" x2="207" y2="316.4" stroke="#888" stroke-width="0.55" />
<line x1="167.8" y1="317.7" x2="207" y2="321.4" stroke="#888" stroke-width="0.55" />
<line x1="207" y1="316.4" x2="230" y2="316.4" stroke="#999" stroke-width="0.5" stroke-dasharray="2,1.5"/>
<line x1="207" y1="321.4" x2="230" y2="321.4" stroke="#999" stroke-width="0.5" stroke-dasharray="2,1.5"/>
<line x1="198" y1="313.5" x2="203" y2="314" stroke="#777" stroke-width="0.6" />
<path d="M174.4,334.6 L179.8,330.8 L179.8,386 L174.4,389.8 Z" fill="#fff" stroke="#333" stroke-width="0.8" stroke-linejoin="round"/>
<line x1="178.60000000000002" y1="332.3" x2="178.60000000000002" y2="385" stroke="#aaa" stroke-width="0.5"/>
<path d="M188.1,341.6 L193.2,337.8 L193.2,378.4 L188.1,382.2 Z" fill="#fff" stroke="#333" stroke-width="0.8" stroke-linejoin="round"/>
<line x1="192.0" y1="339.3" x2="192.0" y2="377.4" stroke="#aaa" stroke-width="0.5"/>
<text x="173.9" y="328.9" font-size="8.2" text-anchor="start" font-weight="normal" fill="#111" stroke="#111" stroke-width="0.2" >A2</text>
<text x="188.7" y="336.5" font-size="8.2" text-anchor="start" font-weight="normal" fill="#111" stroke="#111" stroke-width="0.2" >A1</text>
<path d="M196.5,356.7 L197.9,354.7 V347.5 L199.3,345.5" stroke="#333" stroke-width="0.8" fill="none" />
<rect x="195.5" y="348.3" width="2.2" height="1.4" fill="#222"/>
<rect x="195.5" y="352.5" width="2.2" height="1.4" fill="#222"/>
<line x1="172" y1="348.6" x2="195" y2="348.6" stroke="#999" stroke-width="0.5" stroke-dasharray="2,1.5"/>
<line x1="172" y1="352.8" x2="195" y2="352.8" stroke="#999" stroke-width="0.5" stroke-dasharray="2,1.5"/>
<path d="M158.3,334 L164,350.5 H172" stroke="#999" stroke-width="0.6" fill="none" />
<path d="M160.5,333 L166,348.6 H172" stroke="#bbb" stroke-width="0.5" fill="none" />
<line x1="197.5" y1="355.6" x2="197.5" y2="362" stroke="#555" stroke-width="0.6" />
<text x="194.4" y="368.3" font-size="8.6" text-anchor="start" font-weight="normal" fill="#111" stroke="#111" stroke-width="0.15" >10</text>
<line x1="194" y1="372" x2="202" y2="372" stroke="#555" stroke-width="0.7" />
<text x="202.7" y="375.2" font-size="8.6" text-anchor="start" font-weight="normal" fill="#111" stroke="#111" stroke-width="0.15" >11</text>
<line x1="167" y1="357" x2="173" y2="352" stroke="#555" stroke-width="0.7" />
<text x="158.3" y="361.9" font-size="8.6" text-anchor="start" font-weight="normal" fill="#111" stroke="#111" stroke-width="0.15" >14</text>
<line x1="168" y1="370.5" x2="174" y2="370.5" stroke="#555" stroke-width="0.7" />
<text x="158.3" y="373.3" font-size="8.6" text-anchor="start" font-weight="normal" fill="#111" stroke="#111" stroke-width="0.15" >13</text>
<line x1="183.3" y1="351.7" x2="183.3" y2="394.8" stroke="#777" stroke-width="0.7" />
<text x="179" y="404.5" font-size="8.6" text-anchor="start" font-weight="normal" fill="#111" stroke="#111" stroke-width="0.15" >12</text>
<rect x="42.3" y="168.8" width="36.7" height="52.4" rx="5.5" fill="#fff" stroke="#999" stroke-width="0.7"/>
<path d="M77,171.2 L83.5,165.5" stroke="#999" stroke-width="0.6" fill="none" />
<path d="M50.8,171.5 Q52,170 53,172.5 L55,178 V182" stroke="#555" stroke-width="1.6" fill="none" stroke-linecap="round"/>
<path d="M51.6,172.3 L54,178" stroke="#fff" stroke-width="0.6" fill="none" />
<rect x="59.2" y="169.5" width="2.6" height="13.5" rx="1" fill="#fff" stroke="#444" stroke-width="0.7"/>
<line x1="59.4" y1="171.5" x2="61.6" y2="171.5" stroke="#666" stroke-width="0.5" />
<line x1="59.4" y1="173.5" x2="61.6" y2="173.5" stroke="#666" stroke-width="0.5" />
<line x1="59.4" y1="175.5" x2="61.6" y2="175.5" stroke="#666" stroke-width="0.5" />
<line x1="59.4" y1="177.5" x2="61.6" y2="177.5" stroke="#666" stroke-width="0.5" />
<line x1="59.4" y1="179.5" x2="61.6" y2="179.5" stroke="#666" stroke-width="0.5" />
<line x1="59.4" y1="181.5" x2="61.6" y2="181.5" stroke="#666" stroke-width="0.5" />
<path d="M68,182 V173 Q69.5,170 71,173 V182" stroke="#555" stroke-width="1.4" fill="none" />
<path d="M54.8,177.5 H56.2 V181.5 L55.5,183.3 L54.8,181.5 Z" fill="#111"/>
<path d="M63.599999999999994,177.5 H65.0 V181.5 L64.3,183.3 L63.599999999999994,181.5 Z" fill="#111"/>
<path d="M69.8,177.5 H71.2 V181.5 L70.5,183.3 L69.8,181.5 Z" fill="#111"/>
<circle cx="60.4" cy="187.1" r="2.7" fill="#fff" stroke="#222" stroke-width="0.8"/>
<line x1="57.7" y1="187.1" x2="63.1" y2="187.1" stroke="#222" stroke-width="0.6" />
<line x1="60.4" y1="184.4" x2="60.4" y2="189.79999999999998" stroke="#222" stroke-width="0.6" />
<circle cx="60.4" cy="216.4" r="2.7" fill="#fff" stroke="#222" stroke-width="0.8"/>
<line x1="57.7" y1="216.4" x2="63.1" y2="216.4" stroke="#222" stroke-width="0.6" />
<line x1="60.4" y1="213.70000000000002" x2="60.4" y2="219.1" stroke="#222" stroke-width="0.6" />
<rect x="49.4" y="190.2" width="21.5" height="15.8" fill="#fff" stroke="#888" stroke-width="0.5"/>
<rect x="49.9" y="192.1" width="5.8" height="5.8" rx="1" fill="#fff" stroke="#333" stroke-width="0.8"/>
<circle cx="52.8" cy="195" r="2.1" fill="#ddd" stroke="#555" stroke-width="0.6"/>
<rect x="49.9" y="199.2" width="5.8" height="5.8" rx="1" fill="#fff" stroke="#333" stroke-width="0.8"/>
<circle cx="52.8" cy="202.1" r="2.1" fill="#ddd" stroke="#555" stroke-width="0.6"/>
<path d="M51.5,206 V211.5 Q52.8,213.5 54.099999999999994,211.5 V206" stroke="#555" stroke-width="0.7" fill="none" />
<rect x="57.7" y="192.1" width="5.8" height="5.8" rx="1" fill="#fff" stroke="#333" stroke-width="0.8"/>
<circle cx="60.6" cy="195" r="2.1" fill="#ddd" stroke="#555" stroke-width="0.6"/>
<rect x="57.7" y="199.2" width="5.8" height="5.8" rx="1" fill="#fff" stroke="#333" stroke-width="0.8"/>
<circle cx="60.6" cy="202.1" r="2.1" fill="#ddd" stroke="#555" stroke-width="0.6"/>
<path d="M59.300000000000004,206 V211.5 Q60.6,213.5 61.9,211.5 V206" stroke="#555" stroke-width="0.7" fill="none" />
<rect x="65.3" y="192.1" width="5.8" height="5.8" rx="1" fill="#fff" stroke="#333" stroke-width="0.8"/>
<circle cx="68.2" cy="195" r="2.1" fill="#ddd" stroke="#555" stroke-width="0.6"/>
<rect x="65.3" y="199.2" width="5.8" height="5.8" rx="1" fill="#fff" stroke="#333" stroke-width="0.8"/>
<circle cx="68.2" cy="202.1" r="2.1" fill="#ddd" stroke="#555" stroke-width="0.6"/>
<path d="M66.9,206 V211.5 Q68.2,213.5 69.5,211.5 V206" stroke="#555" stroke-width="0.7" fill="none" />
<text x="60.5" y="165" font-size="6.2" text-anchor="middle" font-weight="bold" fill="#222" textLength="29" lengthAdjust="spacingAndGlyphs">Заземление</text>
<text x="22.5" y="179" font-size="6.2" text-anchor="middle" font-weight="bold" fill="#222" textLength="32" lengthAdjust="spacingAndGlyphs">Нейтральный</text>
<text x="22.5" y="185.3" font-size="6.2" text-anchor="middle" font-weight="bold" fill="#222" textLength="17" lengthAdjust="spacingAndGlyphs">провод</text>
<text x="87.5" y="182" font-size="6.2" text-anchor="middle" font-weight="bold" fill="#222" textLength="11.5" lengthAdjust="spacingAndGlyphs">Фаза</text>
<text x="22.5" y="209" font-size="6.2" text-anchor="middle" font-weight="bold" fill="#222" textLength="32" lengthAdjust="spacingAndGlyphs">Нейтральный</text>
<text x="22.5" y="215.5" font-size="6.2" text-anchor="middle" font-weight="bold" fill="#222" textLength="17" lengthAdjust="spacingAndGlyphs">провод</text>
<text x="87.5" y="212" font-size="6.2" text-anchor="middle" font-weight="bold" fill="#222" textLength="11.5" lengthAdjust="spacingAndGlyphs">Фаза</text>
<text x="59.5" y="228.2" font-size="6.2" text-anchor="middle" font-weight="bold" fill="#222" textLength="29" lengthAdjust="spacingAndGlyphs">Заземление</text>
<text x="58.4" y="241.9" font-size="6.2" text-anchor="middle" font-weight="bold" fill="#222" textLength="45" lengthAdjust="spacingAndGlyphs">Фаза--коричневая</text>
<text x="60.2" y="249.2" font-size="6.2" text-anchor="middle" font-weight="bold" fill="#222" textLength="73" lengthAdjust="spacingAndGlyphs">Нейтральный провод--Серый</text>
<text x="62.7" y="258.1" font-size="6.2" text-anchor="middle" font-weight="bold" fill="#222" textLength="54" lengthAdjust="spacingAndGlyphs">Заземление --Желтое</text>
<line x1="16.200000000000003" y1="424.2" x2="119.2" y2="424.2" stroke="#bbb" stroke-width="0.5" stroke-dasharray="3,1.5"/>
<line x1="67.7" y1="372.7" x2="67.7" y2="475.7" stroke="#bbb" stroke-width="0.5" stroke-dasharray="3,1.5"/>
<line x1="66.80" y1="413.20" x2="66.80" y2="379.20" stroke="#777" stroke-width="0.55" />
<line x1="68.60" y1="413.20" x2="68.60" y2="379.20" stroke="#777" stroke-width="0.55" />
<line x1="76.78" y1="417.92" x2="106.22" y2="400.92" stroke="#777" stroke-width="0.55" />
<line x1="77.68" y1="419.48" x2="107.12" y2="402.48" stroke="#777" stroke-width="0.55" />
<line x1="77.68" y1="428.92" x2="107.12" y2="445.92" stroke="#777" stroke-width="0.55" />
<line x1="76.78" y1="430.48" x2="106.22" y2="447.48" stroke="#777" stroke-width="0.55" />
<line x1="68.60" y1="435.20" x2="68.60" y2="469.20" stroke="#777" stroke-width="0.55" />
<line x1="66.80" y1="435.20" x2="66.80" y2="469.20" stroke="#777" stroke-width="0.55" />
<line x1="57.72" y1="419.48" x2="28.28" y2="402.48" stroke="#777" stroke-width="0.55" />
<line x1="58.62" y1="417.92" x2="29.18" y2="400.92" stroke="#777" stroke-width="0.55" />
<line x1="58.62" y1="430.48" x2="29.18" y2="447.48" stroke="#777" stroke-width="0.55" />
<line x1="57.72" y1="428.92" x2="28.28" y2="445.92" stroke="#777" stroke-width="0.55" />
<circle cx="67.7" cy="424.2" r="51.5" fill="none" stroke="#999" stroke-width="0.8"/>
<circle cx="67.7" cy="424.2" r="44.8" fill="none" stroke="#333" stroke-width="1.0"/>
<circle cx="67.7" cy="424.2" r="34.6" fill="none" stroke="#555" stroke-width="0.9"/>
<circle cx="67.7" cy="424.2" r="23" fill="none" stroke="#333" stroke-width="1.0"/>
<circle cx="67.7" cy="424.2" r="11" fill="none" stroke="#111" stroke-width="1.6"/>
<text x="61.8" y="376.4" font-size="5.0" text-anchor="middle" fill="#1a1a1a" dominant-baseline="central">B1</text>
<text x="62.7" y="383.1" font-size="5.0" text-anchor="middle" fill="#1a1a1a" dominant-baseline="central">B2</text>
<text x="44.0" y="382.2" font-size="5.0" text-anchor="middle" fill="#1a1a1a" dominant-baseline="central">A1</text>
<text x="47.3" y="388.2" font-size="5.0" text-anchor="middle" fill="#1a1a1a" dominant-baseline="central">A2</text>
<text x="29.7" y="394.5" font-size="5.0" text-anchor="middle" fill="#1a1a1a" dominant-baseline="central">Б 1</text>
<text x="35.1" y="398.7" font-size="5.0" text-anchor="middle" fill="#1a1a1a" dominant-baseline="central">Б 2</text>
<text x="21.3" y="411.3" font-size="5.0" text-anchor="middle" fill="#1a1a1a" dominant-baseline="central">B1</text>
<text x="27.8" y="413.1" font-size="5.0" text-anchor="middle" fill="#1a1a1a" dominant-baseline="central">B2</text>
<text x="19.9" y="430.1" font-size="5.0" text-anchor="middle" fill="#1a1a1a" dominant-baseline="central">A1</text>
<text x="26.6" y="429.2" font-size="5.0" text-anchor="middle" fill="#1a1a1a" dominant-baseline="central">A2</text>
<text x="25.7" y="447.9" font-size="5.0" text-anchor="middle" fill="#1a1a1a" dominant-baseline="central">Б 1</text>
<text x="31.7" y="444.6" font-size="5.0" text-anchor="middle" fill="#1a1a1a" dominant-baseline="central">Б 2</text>
<text x="38.0" y="462.2" font-size="5.0" text-anchor="middle" fill="#1a1a1a" dominant-baseline="central">B1</text>
<text x="42.2" y="456.8" font-size="5.0" text-anchor="middle" fill="#1a1a1a" dominant-baseline="central">B2</text>
<text x="54.8" y="470.6" font-size="5.0" text-anchor="middle" fill="#1a1a1a" dominant-baseline="central">A1</text>
<text x="56.6" y="464.1" font-size="5.0" text-anchor="middle" fill="#1a1a1a" dominant-baseline="central">A2</text>
<text x="73.6" y="472.0" font-size="5.0" text-anchor="middle" fill="#1a1a1a" dominant-baseline="central">Б 1</text>
<text x="72.7" y="465.3" font-size="5.0" text-anchor="middle" fill="#1a1a1a" dominant-baseline="central">Б 2</text>
<text x="91.4" y="466.2" font-size="5.0" text-anchor="middle" fill="#1a1a1a" dominant-baseline="central">B1</text>
<text x="88.1" y="460.2" font-size="5.0" text-anchor="middle" fill="#1a1a1a" dominant-baseline="central">B2</text>
<text x="105.7" y="453.9" font-size="5.0" text-anchor="middle" fill="#1a1a1a" dominant-baseline="central">A1</text>
<text x="100.3" y="449.7" font-size="5.0" text-anchor="middle" fill="#1a1a1a" dominant-baseline="central">A2</text>
<text x="114.1" y="437.1" font-size="5.0" text-anchor="middle" fill="#1a1a1a" dominant-baseline="central">Б 1</text>
<text x="107.6" y="435.3" font-size="5.0" text-anchor="middle" fill="#1a1a1a" dominant-baseline="central">Б 2</text>
<text x="115.5" y="418.3" font-size="5.0" text-anchor="middle" fill="#1a1a1a" dominant-baseline="central">B1</text>
<text x="108.8" y="419.2" font-size="5.0" text-anchor="middle" fill="#1a1a1a" dominant-baseline="central">B2</text>
<text x="109.7" y="400.5" font-size="5.0" text-anchor="middle" fill="#1a1a1a" dominant-baseline="central">A1</text>
<text x="103.7" y="403.8" font-size="5.0" text-anchor="middle" fill="#1a1a1a" dominant-baseline="central">A2</text>
<text x="97.4" y="386.2" font-size="5.0" text-anchor="middle" fill="#1a1a1a" dominant-baseline="central">Б 1</text>
<text x="93.2" y="391.6" font-size="5.0" text-anchor="middle" fill="#1a1a1a" dominant-baseline="central">Б 2</text>
<text x="80.6" y="377.8" font-size="5.0" text-anchor="middle" fill="#1a1a1a" dominant-baseline="central">B1</text>
<text x="78.8" y="384.3" font-size="5.0" text-anchor="middle" fill="#1a1a1a" dominant-baseline="central">B2</text>
<text x="63.1" y="386.5" font-size="5.0" text-anchor="middle" fill="#1a1a1a" dominant-baseline="central">B1</text>
<text x="63.9" y="393.2" font-size="5.0" text-anchor="middle" fill="#1a1a1a" dominant-baseline="central">B2</text>
<text x="47.2" y="392.2" font-size="5.0" text-anchor="middle" fill="#1a1a1a" dominant-baseline="central">A1</text>
<text x="50.8" y="397.9" font-size="5.0" text-anchor="middle" fill="#1a1a1a" dominant-baseline="central">A2</text>
<text x="35.3" y="404.3" font-size="5.0" text-anchor="middle" fill="#1a1a1a" dominant-baseline="central">Б 1</text>
<text x="41.1" y="407.9" font-size="5.0" text-anchor="middle" fill="#1a1a1a" dominant-baseline="central">Б 2</text>
<text x="29.9" y="420.3" font-size="5.0" text-anchor="middle" fill="#1a1a1a" dominant-baseline="central">B1</text>
<text x="36.7" y="421.0" font-size="5.0" text-anchor="middle" fill="#1a1a1a" dominant-baseline="central">B2</text>
<text x="32.0" y="437.1" font-size="5.0" text-anchor="middle" fill="#1a1a1a" dominant-baseline="central">A1</text>
<text x="38.4" y="434.8" font-size="5.0" text-anchor="middle" fill="#1a1a1a" dominant-baseline="central">A2</text>
<text x="41.1" y="451.3" font-size="5.0" text-anchor="middle" fill="#1a1a1a" dominant-baseline="central">Б 1</text>
<text x="45.9" y="446.5" font-size="5.0" text-anchor="middle" fill="#1a1a1a" dominant-baseline="central">Б 2</text>
<text x="55.5" y="460.2" font-size="5.0" text-anchor="middle" fill="#1a1a1a" dominant-baseline="central">B1</text>
<text x="57.7" y="453.8" font-size="5.0" text-anchor="middle" fill="#1a1a1a" dominant-baseline="central">B2</text>
<text x="72.3" y="461.9" font-size="5.0" text-anchor="middle" fill="#1a1a1a" dominant-baseline="central">A1</text>
<text x="71.5" y="455.2" font-size="5.0" text-anchor="middle" fill="#1a1a1a" dominant-baseline="central">A2</text>
<text x="88.2" y="456.2" font-size="5.0" text-anchor="middle" fill="#1a1a1a" dominant-baseline="central">Б 1</text>
<text x="84.6" y="450.5" font-size="5.0" text-anchor="middle" fill="#1a1a1a" dominant-baseline="central">Б 2</text>
<text x="100.1" y="444.1" font-size="5.0" text-anchor="middle" fill="#1a1a1a" dominant-baseline="central">B1</text>
<text x="94.3" y="440.5" font-size="5.0" text-anchor="middle" fill="#1a1a1a" dominant-baseline="central">B2</text>
<text x="105.5" y="428.1" font-size="5.0" text-anchor="middle" fill="#1a1a1a" dominant-baseline="central">A1</text>
<text x="98.7" y="427.4" font-size="5.0" text-anchor="middle" fill="#1a1a1a" dominant-baseline="central">A2</text>
<text x="103.4" y="411.3" font-size="5.0" text-anchor="middle" fill="#1a1a1a" dominant-baseline="central">Б 1</text>
<text x="97.0" y="413.6" font-size="5.0" text-anchor="middle" fill="#1a1a1a" dominant-baseline="central">Б 2</text>
<text x="94.3" y="397.1" font-size="5.0" text-anchor="middle" fill="#1a1a1a" dominant-baseline="central">B1</text>
<text x="89.5" y="401.9" font-size="5.0" text-anchor="middle" fill="#1a1a1a" dominant-baseline="central">B2</text>
<text x="79.9" y="388.2" font-size="5.0" text-anchor="middle" fill="#1a1a1a" dominant-baseline="central">A1</text>
<text x="77.7" y="394.6" font-size="5.0" text-anchor="middle" fill="#1a1a1a" dominant-baseline="central">A2</text>
<text x="64.5" y="398.0" font-size="5.0" text-anchor="middle" fill="#1a1a1a" dominant-baseline="central">B1</text>
<text x="65.3" y="404.7" font-size="5.0" text-anchor="middle" fill="#1a1a1a" dominant-baseline="central">B2</text>
<text x="46.9" y="407.9" font-size="5.0" text-anchor="middle" fill="#1a1a1a" dominant-baseline="central">A1</text>
<text x="52.3" y="412.1" font-size="5.0" text-anchor="middle" fill="#1a1a1a" dominant-baseline="central">A2</text>
<text x="41.5" y="427.4" font-size="5.0" text-anchor="middle" fill="#1a1a1a" dominant-baseline="central">Б 1</text>
<text x="48.2" y="426.6" font-size="5.0" text-anchor="middle" fill="#1a1a1a" dominant-baseline="central">Б 2</text>
<text x="51.4" y="445.0" font-size="5.0" text-anchor="middle" fill="#1a1a1a" dominant-baseline="central">B1</text>
<text x="55.6" y="439.6" font-size="5.0" text-anchor="middle" fill="#1a1a1a" dominant-baseline="central">B2</text>
<text x="70.9" y="450.4" font-size="5.0" text-anchor="middle" fill="#1a1a1a" dominant-baseline="central">A1</text>
<text x="70.1" y="443.7" font-size="5.0" text-anchor="middle" fill="#1a1a1a" dominant-baseline="central">A2</text>
<text x="88.5" y="440.5" font-size="5.0" text-anchor="middle" fill="#1a1a1a" dominant-baseline="central">Б 1</text>
<text x="83.1" y="436.3" font-size="5.0" text-anchor="middle" fill="#1a1a1a" dominant-baseline="central">Б 2</text>
<text x="93.9" y="421.0" font-size="5.0" text-anchor="middle" fill="#1a1a1a" dominant-baseline="central">B1</text>
<text x="87.2" y="421.8" font-size="5.0" text-anchor="middle" fill="#1a1a1a" dominant-baseline="central">B2</text>
<text x="84.0" y="403.4" font-size="5.0" text-anchor="middle" fill="#1a1a1a" dominant-baseline="central">A1</text>
<text x="79.8" y="408.8" font-size="5.0" text-anchor="middle" fill="#1a1a1a" dominant-baseline="central">A2</text>
<text x="62.8" y="410.7" font-size="5.0" text-anchor="middle" fill="#1a1a1a" dominant-baseline="central">B1</text>
<text x="54.2" y="429.1" font-size="5.0" text-anchor="middle" fill="#1a1a1a" dominant-baseline="central">A1</text>
<text x="72.6" y="437.7" font-size="5.0" text-anchor="middle" fill="#1a1a1a" dominant-baseline="central">Б 1</text>
<text x="81.2" y="419.3" font-size="5.0" text-anchor="middle" fill="#1a1a1a" dominant-baseline="central">B1</text>
<text x="63.7" y="419.2" font-size="5.0" text-anchor="middle" fill="#1a1a1a" dominant-baseline="central">A2</text>
<text x="72.2" y="419.2" font-size="5.0" text-anchor="middle" fill="#1a1a1a" dominant-baseline="central">B2</text>
<text x="63.7" y="426.2" font-size="5.0" text-anchor="middle" fill="#1a1a1a" dominant-baseline="central">Б 2</text>
<text x="73.2" y="426.2" font-size="5.0" text-anchor="middle" fill="#1a1a1a" dominant-baseline="central">Б</text>
<text x="67.7" y="432.2" font-size="5.0" text-anchor="middle" fill="#1a1a1a" dominant-baseline="central">A2</text>
</svg>
</body></html>
